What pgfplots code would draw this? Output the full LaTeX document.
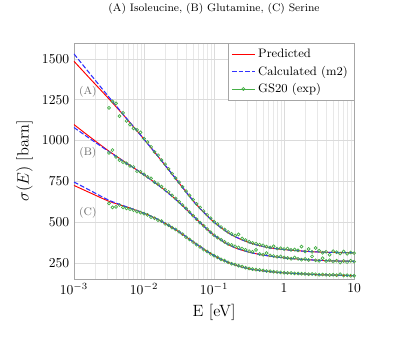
\documentclass[border=0pt]{standalone}
\usepackage{pgfplots}
\usepackage{pgfplotstable}
\pgfplotsset{compat=1.18}

\definecolor{expgreen}{RGB}{70,175,70}
\definecolor{calcblue}{RGB}{50,50,255}

% model curves: predicted (r) and calculated m2 (b)
\pgfplotstableread{
x        Ar   Ab   Br   Bb   Cr  Cb
0.001    1486 1531 1098 1080 725 746
0.001778 1370 1398 1015 1005 676 690
0.003162 1255 1266 935  932  628 634
0.005623 1135 1136 862  861  593 594
0.01     1008 1008 790  790  555 555
0.01778  876  877  712  711  505 506
0.03162  740  741  622  621  440 441
0.05623  607  606  518  518  365 365
0.1      500  500  420  420  295 295
0.1778   422  423  352  353  245 245
0.3162   375  375  316  316  214 214
0.5623   346  346  295  295  199 199
1        332  332  281  281  189 189
1.778    323  323  272  272  183 183
3.162    317  317  266  266  178 178
5.623    314  314  262  262  175 175
10       312  312  260  260  172 172
}\model

% GS20 measurements
\pgfplotstableread{
x        a    b    c
0.003162 1200 925  615
0.003548 1240 942  590
0.003981 1228 900  593
0.004467 1150 880  605
0.005012 1170 868  590
0.005623 1120 860  585
0.006310 1098 845  580
0.007079 1075 838  573
0.007943 1065 812  565
0.008913 1050 808  558
0.01     1012 793  552
0.01122  990  778  545
0.01259  962  768  531
0.01413  931  745  524
0.01585  910  733  512
0.01778  880  718  506
0.01995  855  700  490
0.02239  826  685  481
0.02512  798  664  466
0.02818  770  645  455
0.03162  745  625  441
0.03548  716  605  426
0.03981  690  584  408
0.04467  664  562  394
0.05012  638  540  378
0.05623  612  518  362
0.06310  590  497  348
0.07079  568  478  332
0.07943  545  458  320
0.08913  524  438  306
0.1      503  420  295
0.1122   488  405  284
0.1259   470  392  272
0.1413   455  379  264
0.1585   440  366  254
0.1778   428  360  245
0.1995   418  352  240
0.2239   425  345  233
0.2512   400  338  228
0.2818   390  330  221
0.3162   380  322  216
0.3548   372  318  212
0.3981   368  330  209
0.4467   362  305  207
0.5012   358  300  204
0.5623   350  310  200
0.6310   345  296  199
0.7079   352  292  196
0.7943   338  288  194
0.8913   340  290  192
1        335  284  190
1.122    338  280  189
1.259    330  276  188
1.413    332  283  186
1.585    327  275  185
1.778    350  270  184
1.995    320  274  183
2.239    335  268  181
2.512    318  290  182
2.818    342  266  180
3.162    325  263  178
3.548    312  279  179
3.981    318  262  177
4.467    300  266  176
5.012    322  258  178
5.623    316  264  175
6.310    308  252  181
7.079    320  262  173
7.943    306  255  175
8.913    314  263  172
10       310  258  171
}\gsdata

\begin{document}
\begin{tikzpicture}
\begin{axis}[
  at={(0,0)}, anchor=south west,
  scale only axis, width=206pt, height=173.5pt,
  xmode=log, xmin=1e-3, xmax=10,
  ymin=152, ymax=1598,
  xtick={1e-3,1e-2,1e-1,1,10},
  xticklabels={$10^{-3}$,$10^{-2}$,$10^{-1}$,$1$,$10$},
  ytick={250,500,750,1000,1250,1500},
  yticklabel style={/pgf/number format/1000 sep={}},
  scaled y ticks=false,
  xmajorgrids, xminorgrids, ymajorgrids,
  major grid style={gray!28},
  minor grid style={gray!18},
  axis line style={gray!70},
  tick style={draw=none},
  xlabel={E [eV]}, ylabel={$\sigma(E)$ [barn]},
  label style={font=\large},
  title={(A) Isoleucine, (B) Glutamine, (C) Serine},
  title style={font=\footnotesize, at={(0.5,1)}, anchor=center, yshift=19pt},
  legend style={at={(1,1)}, anchor=north east, draw=gray!70, font=\small,
    cells={anchor=west}, inner sep=2.5pt, row sep=0.5pt},
]
\addplot[red, line width=0.7pt, smooth] table[x=x, y=Ar] {\model};
\addlegendentry{Predicted}
\addplot[red, line width=0.7pt, smooth, forget plot] table[x=x, y=Br] {\model};
\addplot[red, line width=0.7pt, smooth, forget plot] table[x=x, y=Cr] {\model};

\addplot[calcblue, line width=0.8pt, dash pattern=on 3.5pt off 1.5pt, smooth,
  legend image code/.code={
    \draw[calcblue, line width=0.8pt, dash pattern=on 3.5pt off 1.5pt] (0cm,0cm) -- (0.6cm,0cm);}]
  table[x=x, y=Ab] {\model};
\addlegendentry{Calculated (m2)}
\addplot[calcblue, line width=0.8pt, dash pattern=on 3.5pt off 1.5pt, smooth, forget plot] table[x=x, y=Bb] {\model};
\addplot[calcblue, line width=0.8pt, dash pattern=on 3.5pt off 1.5pt, smooth, forget plot] table[x=x, y=Cb] {\model};

\addplot[expgreen, only marks, mark=o, mark size=1.1pt, mark options={line width=0.5pt},
  legend image code/.code={
    \draw[expgreen, line width=0.6pt] (0cm,0cm) -- (0.6cm,0cm);
    \draw[expgreen, line width=0.5pt] (0.3cm,0cm) circle (1.1pt);}]
  table[x=x, y=a] {\gsdata};
\addlegendentry{GS20 (exp)}
\addplot[expgreen, only marks, mark=o, mark size=1.1pt, mark options={line width=0.5pt}, forget plot]
  table[x=x, y=b] {\gsdata};
\addplot[expgreen, only marks, mark=o, mark size=1.1pt, mark options={line width=0.5pt}, forget plot]
  table[x=x, y=c] {\gsdata};

\node[font=\footnotesize, text=gray!85!black] at (axis cs:0.00158,1298) {(A)};
\node[font=\footnotesize, text=gray!85!black] at (axis cs:0.00158,924) {(B)};
\node[font=\footnotesize, text=gray!85!black] at (axis cs:0.00158,556) {(C)};
\end{axis}
\pgfresetboundingbox
\path (-54.4pt,-44.9pt) rectangle (239pt,205.1pt);
\end{tikzpicture}
\end{document}
